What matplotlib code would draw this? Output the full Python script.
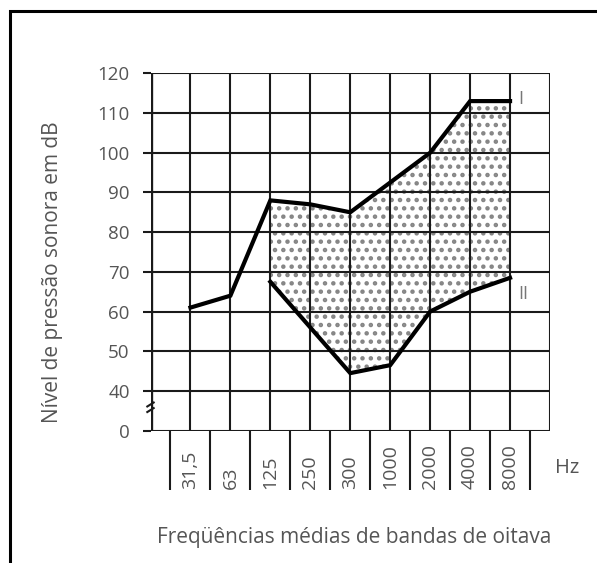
import matplotlib
matplotlib.use('Agg')
import matplotlib.pyplot as plt
from matplotlib.patches import Rectangle
import numpy as np

plt.rcParams['font.family'] = ['Open Sans', 'DejaVu Sans']
plt.rcParams['hatch.linewidth'] = 2.0

# data
bands = ['31,5', '63', '125', '250', '300', '1000', '2000', '4000', '8000']
ytick_labels = ['0', '40', '50', '60', '70', '80', '90', '100', '110', '120']
curve_I = [61, 64, 88, 87, 85, 92.5, 100, 113, 113]     # bands 31,5 .. 8000
curve_II = [67.5, 56, 44.5, 46.5, 60, 65, 68.5]         # bands 125 .. 8000

def to_grid(db):
    # 0 dB sits on row 0, 40..120 dB on rows 1..9 (broken axis)
    return (np.asarray(db, dtype=float) - 30) / 10

txt = '#555555'
ink = '#1a1a1a'

fig = plt.figure(figsize=(5.97, 5.63), dpi=100)
ax = fig.add_axes([150.5/597, 1-430.7/563, 399.5/597, 357.4/563])
ax.set_xlim(0, 10)
ax.set_ylim(0, 9)

# grid
ax.hlines(range(10), 0, 10, color=ink, lw=1.5, zorder=2)
ax.vlines(range(11), 0, 9, color=ink, lw=1.5, zorder=2)
for s in ax.spines.values():
    s.set_visible(False)
ax.vlines(0, 0, 9, color=ink, lw=2.4, zorder=2)

ax.set_xticks([])
ax.set_yticks(range(10))
ax.set_yticklabels(ytick_labels, color=txt, fontsize=13.5)
ax.tick_params(axis='y', length=6, width=1.5, color=ink, pad=9)

xI = np.arange(1, 10)
xII = np.arange(3, 10)
yI = to_grid(curve_I)
yII = to_grid(curve_II)

# dotted band between the two curves
ax.fill_between(xII, yII, yI[2:], facecolor='white', edgecolor='#858585',
                hatch='..', linewidth=0, zorder=1)
ax.plot(xI, yI, color='black', lw=3, solid_joinstyle='miter', zorder=3)
ax.plot(xII, yII, color='black', lw=3, solid_joinstyle='miter', zorder=3)
ax.text(9.2, yI[-1] + 0.05, 'I', color='#777777', fontsize=13, ha='left', va='center')
ax.text(9.2, 3.45, 'II', color='#777777', fontsize=13, ha='left', va='center')

# axis break mark
for dy in (0.52, 0.66):
    ax.plot([-0.08, 0.08], [dy - 0.05, dy + 0.05], color=ink, lw=1.5,
            clip_on=False, zorder=4)

# frequency boxes below the axis
ax.vlines(np.arange(0.5, 10, 1), -1.5, 0, color=ink, lw=1.5, clip_on=False)
for i, b in enumerate(bands, start=1):
    ax.text(i, -1.47, b, rotation=90, ha='center', va='bottom', color=txt,
            fontsize=14, clip_on=False)
ax.text(10.42, -0.94, 'Hz', color=txt, fontsize=14.5, ha='center', va='center')

fig.text(354/597, 1-537/563, 'Freqüências médias de bandas de oitava',
         color=txt, fontsize=15, ha='center', va='center')
fig.text(53/597, 1-272/563, 'Nível de pressão sonora em dB', color=txt,
         fontsize=15, rotation=90, ha='center', va='center')

# outer frame (open at right and bottom, as cropped)
fig.patches.append(Rectangle((9.5/597, -0.1), 1.2, 1.1 - 10.7/563, fill=False,
                             lw=2.2, edgecolor='black',
                             transform=fig.transFigure, figure=fig))

fig.savefig('out.png', dpi=100)
